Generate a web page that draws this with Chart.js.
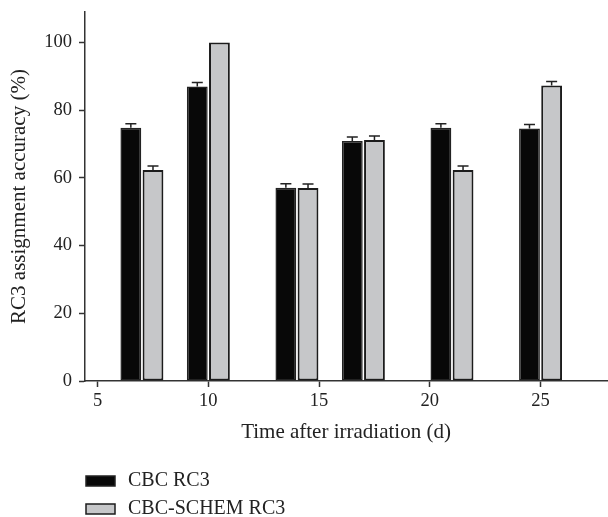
<!DOCTYPE html>
<html>
<head>
<meta charset="utf-8">
<script src="https://cdn.jsdelivr.net/npm/chart.js@4.4.0/dist/chart.umd.min.js"></script>
<style>
  html, body { margin: 0; padding: 0; background: #fff; }
</style>
</head>
<body>
<canvas id="myChart" width="608" height="517"></canvas>
<script>
let days = [7, 10, 14, 17, 21, 25];
let cbcValues = [74.8, 87, 57.1, 70.9, 74.8, 74.6];
let cbcErrors = [1.2, 1.2, 1.2, 1.2, 1.2, 1.2];
let schemValues = [62.3, 100, 57, 71.2, 62.3, 87.3];
let schemErrors = [1.2, 0, 1.2, 1.2, 1.2, 1.2];
let seriesNames = ['CBC RC3', 'CBC-SCHEM RC3'];
let xTicks = [5, 10, 15, 20, 25];
let yTicks = [0, 20, 40, 60, 80, 100];

let serif = "'Liberation Serif', 'DejaVu Serif', serif";
let ink = '#222';

// small caps on top of the bars
const errorBars = {
  id: 'errorBars',
  afterDatasetsDraw(chart) {
    let c = chart.ctx;
    let yScale = chart.scales.y;
    chart.data.datasets.forEach((ds, i) => {
      chart.getDatasetMeta(i).data.forEach((bar, j) => {
        let err = ds.errors[j];
        if (!err) return;
        let top = yScale.getPixelForValue(ds.data[j].y + err);
        c.save();
        c.strokeStyle = ink;
        c.lineWidth = 1.5;
        c.beginPath();
        c.moveTo(bar.x, bar.y);
        c.lineTo(bar.x, top);
        c.moveTo(bar.x - 5.5, top);
        c.lineTo(bar.x + 5.5, top);
        c.stroke();
        c.restore();
      });
    });
  }
};

// legend stacked under the plot
const stackedLegend = {
  id: 'stackedLegend',
  afterDraw(chart) {
    let c = chart.ctx;
    let rows = [481, 509];
    chart.data.datasets.forEach((ds, i) => {
      let y = rows[i];
      c.save();
      c.fillStyle = ds.backgroundColor;
      c.strokeStyle = ds.borderColor;
      c.lineWidth = 1.5;
      c.fillRect(86, y - 5, 29, 10);
      c.strokeRect(86, y - 5, 29, 10);
      c.fillStyle = ink;
      c.font = '20px ' + serif;
      c.textBaseline = 'middle';
      c.fillText(ds.label, 128, y);
      c.restore();
    });
  }
};

let axisStyle = {
  grid: { display: true, offset: false, drawOnChartArea: false, drawTicks: true, tickLength: 6, tickWidth: 1.5, tickColor: '#333' },
  border: { display: true, color: '#333', width: 1.5 }
};

let ctx = document.getElementById('myChart').getContext('2d');

let myChart = new Chart(ctx, {
  type: 'bar',
  data: {
    datasets: [{
      label: seriesNames[0],
      data: days.map((d, i) => ({ x: d, y: cbcValues[i] })),
      errors: cbcErrors,
      backgroundColor: '#080808',
      borderColor: '#222',
      borderWidth: 1.5,
      borderSkipped: false
    }, {
      label: seriesNames[1],
      data: days.map((d, i) => ({ x: d, y: schemValues[i] })),
      errors: schemErrors,
      backgroundColor: '#c6c7c9',
      borderColor: '#1c1c1c',
      borderWidth: 2,
      borderSkipped: false
    }]
  },
  options: {
    responsive: false,
    animation: false,
    devicePixelRatio: 1,
    layout: { padding: { top: 12, right: 1, bottom: 71, left: 0 } },
    datasets: {
      bar: { categoryPercentage: 2 / 3, barPercentage: 0.94 }
    },
    plugins: {
      legend: { display: false },
      tooltip: { enabled: false }
    },
    scales: {
      x: {
        type: 'linear',
        min: 4.43,
        max: 28,
        offset: false,
        ...axisStyle,
        afterBuildTicks: (s) => { s.ticks = xTicks.map(v => ({ value: v })); },
        afterFit: (s) => { s.height = 65; s.paddingLeft = 0; s.paddingRight = 0; },
        ticks: { color: ink, font: { family: serif, size: 18.5 }, padding: 3, maxRotation: 0 },
        title: {
          display: true,
          text: 'Time after irradiation (d)',
          color: ink,
          font: { family: serif, size: 21 },
          padding: { top: 2, bottom: 1 }
        }
      },
      y: {
        min: 0,
        max: 109,
        ...axisStyle,
        afterBuildTicks: (s) => { s.ticks = yTicks.map(v => ({ value: v })); },
        afterFit: (s) => { s.width = 85; s.paddingTop = 0; s.paddingBottom = 0; },
        ticks: { color: ink, font: { family: serif, size: 18.5 }, padding: 7 },
        title: {
          display: true,
          text: 'RC3 assignment accuracy (%)',
          color: ink,
          font: { family: serif, size: 21 },
          padding: { top: 7, bottom: 0 }
        }
      }
    }
  },
  plugins: [errorBars, stackedLegend]
});
</script>
</body>
</html>
